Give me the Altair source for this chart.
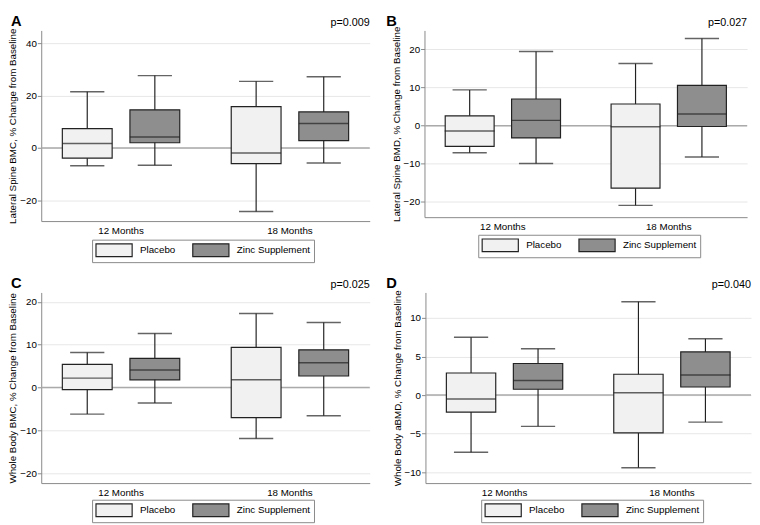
import altair as alt
import pandas as pd

groups = ["Placebo", "Zinc Supplement"]
times = ["12 Months", "18 Months"]
box_time = ["12 Months", "12 Months", "18 Months", "18 Months"]
box_group = ["Placebo", "Zinc Supplement", "Placebo", "Zinc Supplement"]

letters = ["A", "B", "C", "D"]
p_values = ["p=0.009", "p=0.027", "p=0.025", "p=0.040"]
y_titles = [
    "Lateral Spine BMC, % Change from Baseline",
    "Lateral Spine BMD, % Change from Baseline",
    "Whole Body BMC, % Change from Baseline",
    "Whole Body aBMD, % Change from Baseline",
]

# order of each list: 12 Months Placebo, 12 Months Zinc, 18 Months Placebo, 18 Months Zinc
a_low = [-6.8, -6.6, -24.3, -5.8]
a_q1 = [-3.9, 2.0, -6.0, 2.8]
a_med = [1.7, 4.2, -1.9, 9.4]
a_q3 = [7.4, 14.6, 15.8, 13.8]
a_high = [21.5, 27.7, 25.5, 27.3]

b_low = [-7.1, -9.9, -20.9, -8.2]
b_q1 = [-5.4, -3.2, -16.4, -0.2]
b_med = [-1.4, 1.4, -0.3, 3.1]
b_q3 = [2.6, 7.0, 5.7, 10.6]
b_high = [9.4, 19.5, 16.3, 22.9]

c_low = [-6.2, -3.6, -11.9, -6.6]
c_q1 = [-0.5, 1.8, -7.0, 2.7]
c_med = [2.2, 4.1, 1.8, 5.8]
c_q3 = [5.4, 6.8, 9.4, 8.8]
c_high = [8.2, 12.6, 17.3, 15.2]

d_low = [-7.4, -4.05, -9.4, -3.5]
d_q1 = [-2.2, 0.76, -4.9, 1.05]
d_med = [-0.5, 1.9, 0.3, 2.6]
d_q3 = [2.86, 4.1, 2.7, 5.6]
d_high = [7.5, 6.0, 12.1, 7.3]

y_domains = [[-28, 45], [-24, 25], [-22.3, 22.2], [-11.4, 13.3]]
y_ticks = [[-20, 0, 20, 40], [-20, -10, 0, 10, 20], [-20, -10, 0, 10, 20], [-10, -5, 0, 5, 10]]

FONT = "Liberation Sans"
DARK = "#222222"
# legend swatch: 37 x 13 rectangle that starts at the left edge of a 13px symbol slot
SWATCH = "M-1,-1H4.69V1H-1Z"


def panel(i, low, q1, med, q3, high, w, h, letter_dx, legend_x, legend_dy):
    df = pd.DataFrame({
        "time": box_time, "group": box_group,
        "low": low, "q1": q1, "med": med, "q3": q3, "high": high,
    })
    x = alt.X("time:N", sort=times,
              scale=alt.Scale(paddingInner=0.2, paddingOuter=0.0725),
              axis=alt.Axis(title=None, labelAngle=0, ticks=False, labelPadding=5,
                            labelFontSize=10, labelColor="black", domainColor="#888888",
                            labelFont=FONT))
    xo = alt.XOffset("group:N", sort=groups,
                     scale=alt.Scale(paddingInner=0.263, paddingOuter=0.131))
    ysc = alt.Scale(domain=y_domains[i], nice=False, zero=False)
    yax = alt.Axis(title=y_titles[i], values=y_ticks[i], grid=True, gridColor="#e6e6e6",
                   tickSize=4, tickColor="#888888", domainColor="#888888",
                   labelFontSize=10, labelColor="black", labelFont=FONT, labelPadding=1,
                   titleFont=FONT, titleFontSize=10, titleFontWeight="normal",
                   titleColor="black", titlePadding=2)
    base = alt.Chart(df)
    zero = alt.Chart(pd.DataFrame({"z": [0]})).mark_rule(color="#aaaaaa", strokeWidth=1.5).encode(
        y=alt.Y("z:Q", scale=ysc, axis=yax))
    whisk = base.mark_rule(color=DARK, strokeWidth=1.2).encode(
        x=x, xOffset=xo, y=alt.Y("low:Q", scale=ysc), y2="high:Q")
    box = base.mark_bar(stroke=DARK, strokeWidth=1.2).encode(
        x=x, xOffset=xo, y=alt.Y("q1:Q", scale=ysc), y2="q3:Q",
        fill=alt.Fill("group:N", sort=groups,
                      scale=alt.Scale(domain=groups, range=["#f1f1f1", "#8e8e8e"]),
                      legend=alt.Legend(orient="none", legendX=legend_x, legendY=h + legend_dy,
                                        direction="horizontal", title=None,
                                        symbolType=SWATCH, symbolSize=169,
                                        symbolStrokeColor=DARK, symbolStrokeWidth=1.2,
                                        strokeColor="#888888", padding=3,
                                        labelFontSize=10, labelFont=FONT, labelColor="black",
                                        labelOffset=31, columnPadding=14)))
    medt = base.mark_tick(color=DARK, size=51, thickness=1.5).encode(
        x=x, xOffset=xo, y=alt.Y("med:Q", scale=ysc))
    caplo = base.mark_tick(color=DARK, size=35, thickness=1.5).encode(
        x=x, xOffset=xo, y=alt.Y("low:Q", scale=ysc))
    caphi = base.mark_tick(color=DARK, size=35, thickness=1.5).encode(
        x=x, xOffset=xo, y=alt.Y("high:Q", scale=ysc))
    ptxt = alt.Chart(pd.DataFrame({"p": [p_values[i]]})).mark_text(
        align="right", baseline="alphabetic", fontSize=11, font=FONT, color="black").encode(
        text="p:N", x=alt.value(w), y=alt.value(-5))
    ltxt = alt.Chart(pd.DataFrame({"l": [letters[i]]})).mark_text(
        align="left", baseline="top", fontSize=15, fontWeight="bold", font=FONT,
        color="black").encode(text="l:N", x=alt.value(letter_dx), y=alt.value(-17))
    return alt.layer(zero, whisk, box, medt, caplo, caphi, ptxt, ltxt).properties(
        width=w, height=h)


pa = panel(0, a_low, a_q1, a_med, a_q3, a_high, 336, 195, -31, 52, 19)
pb = panel(1, b_low, b_q1, b_med, b_q3, b_high, 330, 191, -39, 55, 18)
pc = panel(2, c_low, c_q1, c_med, c_q3, c_high, 336, 195, -31, 52, 17)
pd_ = panel(3, d_low, d_q1, d_med, d_q3, d_high, 333, 195, -40, 57, 17)

indep = dict(x="independent", y="independent", fill="independent", xOffset="independent")
top = alt.hconcat(pa, pb, spacing=16).resolve_scale(**indep)
bottom = alt.hconcat(pc, pd_, spacing=16).resolve_scale(**indep)
chart = alt.vconcat(top, bottom, spacing=13).resolve_scale(**indep).properties(
    padding=0, background="white"
).configure_view(stroke=None)

chart.save("out.html", embed_options={"renderer": "svg", "actions": False})
